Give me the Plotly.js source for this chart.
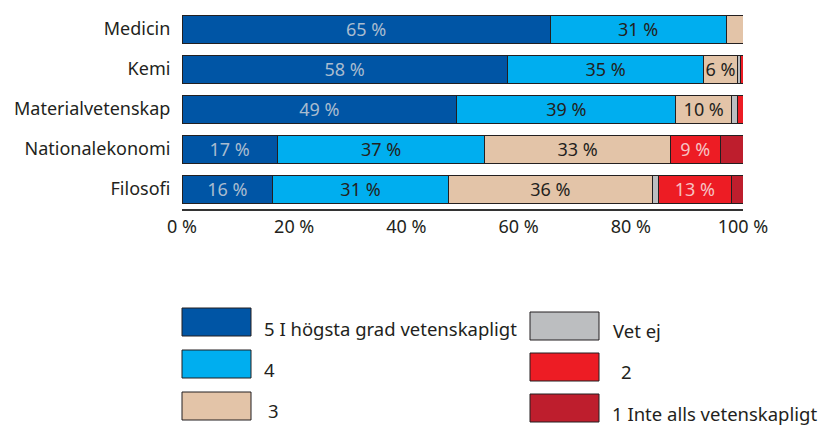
<!DOCTYPE html>
<html><head><meta charset="utf-8">
<script src="https://cdn.plot.ly/plotly-3.0.1.min.js"></script>
<style>body{margin:0;background:#fff}#c{width:827px;height:426px}</style>
</head><body><div id="c"></div>
<script>
var categories = ["Medicin","Kemi","Materialvetenskap","Nationalekonomi","Filosofi"];
var seriesNames = ["5 I högsta grad vetenskapligt","4","3","Vet ej","2","1 Inte alls vetenskapligt"];
var s5 = [65,58,49,17,16];
var s4 = [31,35,39,37,31];
var s3 = [3,6,10,33,36];
var sVetEj = [0,0.5,1,0,1];
var s2 = [0,0.5,1,9,13];
var s1 = [0,0,0,4,2];
var tickVals = [0,20,40,60,80,100];
var tickText = ["0 %","20 %","40 %","60 %","80 %","100 %"];

var series = [s5,s4,s3,sVetEj,s2,s1];
var colors = ["#0055a5","#00aeef","#e3c4a8","#bcbec0","#ed1c24","#be1e2d"];
var textColors = ["#a9bccf","#231f20","#231f20","#231f20","#f6c3c3","#f6c3c3"];
var FONT = "Noto Sans, Open Sans, sans-serif";

var traces = series.map(function(vals,i){
  return {
    type:"bar", orientation:"h", name:seriesNames[i],
    y:categories, x:vals,
    text: vals.map(function(v){return v>=5 ? v+" %" : "";}),
    textposition:"inside", insidetextanchor:"middle", textangle:0,
    constraintext:"none", cliponaxis:false,
    textfont:{family:FONT,size:18,color:textColors[i]},
    marker:{color:colors[i],line:{color:"#231f20",width:1}},
    showlegend:false, hoverinfo:"name+x"
  };
});

// plot area in pixels: x 182..743, y 9..209
var L=182,R=743,T=9,B=209;
function px(x){return (x-L)/(R-L);}
function py(y){return (B-y)/(B-T);}
var legendPos = [
  {bx:182,by:308,tx:262,ty:328},
  {bx:182,by:350,tx:262,ty:369},
  {bx:182,by:392,tx:266,ty:411},
  {bx:530,by:312,tx:611,ty:330},
  {bx:530,by:353,tx:619,ty:371},
  {bx:530,by:394,tx:610,ty:413}
];
var shapes=[], annotations=[];
seriesNames.forEach(function(n,i){
  var p=legendPos[i];
  shapes.push({type:"rect",xref:"paper",yref:"paper",x0:px(p.bx),x1:px(p.bx+69),y0:py(p.by),y1:py(p.by+28),
    fillcolor:colors[i],line:{color:"#231f20",width:1}});
  annotations.push({xref:"paper",yref:"paper",x:px(p.tx),y:py(p.ty),xanchor:"left",yanchor:"middle",
    text:n,showarrow:false,font:{family:FONT,size:18.5,color:"#231f20"}});
});

var layout = {
  width:827,height:426,
  margin:{l:L,r:827-R,t:T,b:426-B,pad:0},
  paper_bgcolor:"#fff",plot_bgcolor:"#fff",
  barmode:"stack",barnorm:"percent",bargap:0.3,
  xaxis:{range:[0,100],tickvals:tickVals,ticktext:tickText,showgrid:false,zeroline:false,
    showline:true,linecolor:"#333",linewidth:2,ticks:"",ticklen:0,
    tickfont:{family:FONT,size:18,color:"#231f20"},fixedrange:true},
  yaxis:{categoryorder:"array",categoryarray:categories,autorange:"reversed",showgrid:false,zeroline:false,
    showline:false,ticks:"outside",ticklen:7,tickcolor:"rgba(0,0,0,0)",
    tickfont:{family:FONT,size:18,color:"#231f20"},fixedrange:true},
  shapes:shapes,annotations:annotations,
  showlegend:false
};
Plotly.newPlot("c",traces,layout,{displayModeBar:false,staticPlot:true});
</script>
</body></html>
